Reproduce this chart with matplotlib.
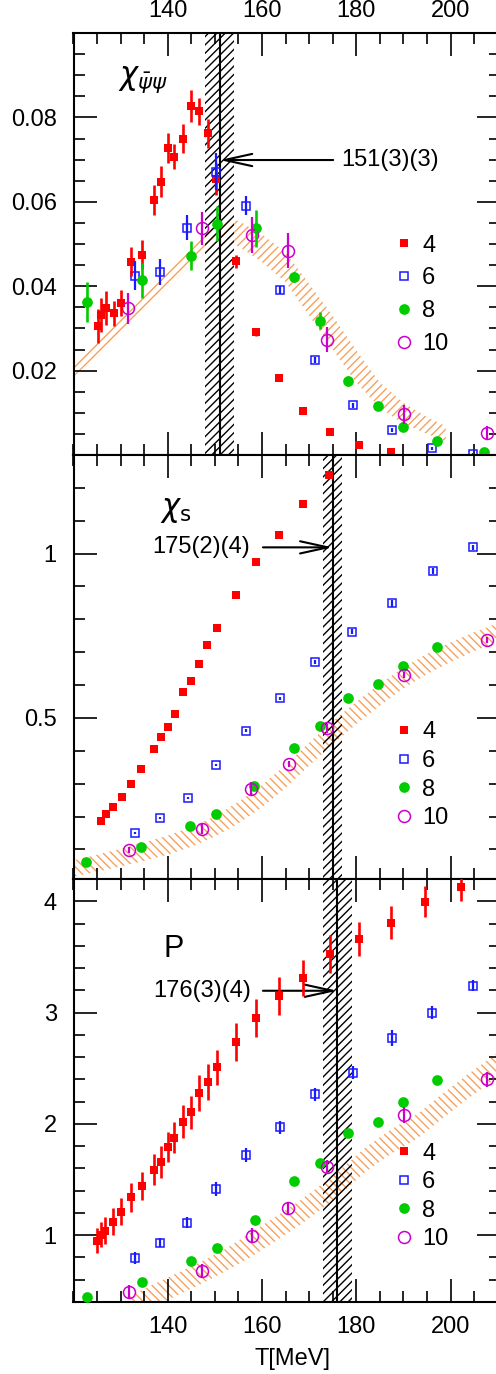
import matplotlib
matplotlib.use('Agg')
import matplotlib.pyplot as plt
from matplotlib.ticker import MultipleLocator, FixedLocator, FormatStrFormatter

plt.rcParams['font.family'] = ['Liberation Sans', 'DejaVu Sans']
plt.rcParams['mathtext.fontset'] = 'dejavusans'
plt.rcParams['hatch.linewidth'] = 1.0

# ---- chiral susceptibility (top panel) ----
pbp_T4 = [125.1, 125.9, 126.8, 128.5, 130.0, 132.1, 134.5, 137.1, 138.6, 140.0, 141.4, 143.2,
          144.9, 146.6, 148.5, 150.3, 154.4, 158.7, 163.5, 168.7, 174.5, 180.6, 187.4]
pbp_4 = [0.0306, 0.0332, 0.0348, 0.0336, 0.0360, 0.0458, 0.0475, 0.0604, 0.0648, 0.0728, 0.0707, 0.0750,
         0.0827, 0.0814, 0.0762, 0.0655, 0.0459, 0.0292, 0.0183, 0.0105, 0.0054, 0.0024, 0.0008]
pbp_4e = [0.004, 0.004, 0.004, 0.003, 0.003, 0.0035, 0.0035, 0.0036, 0.0036, 0.0036, 0.003, 0.0035,
          0.0037, 0.0033, 0.0035, 0.0038, 0.0015, 0.001, 0.0008, 0.0005, 0.0004, 0.0003, 0.0002]
pbp_T6 = [133.1, 138.4, 144.0, 150.2, 156.6, 163.8, 171.3, 179.3, 187.6, 196.1, 204.7]
pbp_6 = [0.0425, 0.0434, 0.0539, 0.0671, 0.0591, 0.0391, 0.0225, 0.0118, 0.0059, 0.0016, 0.0002]
pbp_6e = [0.0034, 0.003, 0.003, 0.0044, 0.0022, 0.001, 0.0008, 0.0006, 0.0004, 0.0003, 0.0002]
pbp_T8 = [122.8, 134.5, 144.9, 150.4, 158.7, 166.8, 172.3, 178.2, 184.7, 190.0, 197.2, 207.0]
pbp_8 = [0.0363, 0.0414, 0.0472, 0.0548, 0.0537, 0.0421, 0.0318, 0.0175, 0.0116, 0.0067, 0.0033, 0.0008]
pbp_8e = [0.0047, 0.0041, 0.0034, 0.0041, 0.0043, 0.0012, 0.002, 0.0012, 0.0006, 0.0006, 0.0004, 0.0003]
pbp_T10 = [131.6, 147.2, 157.8, 165.6, 173.8, 190.2, 207.7]
pbp_10 = [0.0348, 0.0537, 0.0521, 0.0484, 0.0273, 0.0096, 0.0053]
pbp_10e = [0.0037, 0.004, 0.0043, 0.0041, 0.003, 0.0022, 0.0016]
# continuum band
pbp_bandT = [120, 130, 140, 150, 155, 160, 165, 170, 175, 180, 185, 190, 195, 199]
pbp_bandc = [0.0203, 0.0310, 0.0418, 0.0530, 0.0525, 0.0490, 0.0445, 0.0368, 0.0290, 0.0210, 0.0142, 0.0099, 0.0070, 0.0050]
pbp_bandh = [0.0018, 0.0022, 0.0025, 0.0026, 0.0030, 0.0033, 0.0035, 0.0038, 0.0040, 0.0038, 0.0030, 0.0025, 0.0020, 0.0018]

# ---- strange quark number susceptibility (middle panel) ----
chis_T4 = [125.9, 127.0, 128.4, 130.2, 132.1, 134.4, 137.1, 138.6, 140.1, 141.5, 143.2, 144.9,
           146.6, 148.4, 150.4, 154.4, 158.7, 163.5, 168.7, 174.3]
chis_4 = [0.187, 0.208, 0.228, 0.260, 0.298, 0.345, 0.405, 0.441, 0.473, 0.512, 0.578, 0.611,
          0.665, 0.722, 0.774, 0.874, 0.973, 1.056, 1.152, 1.239]
chis_T6 = [133.0, 138.4, 144.2, 150.2, 156.6, 163.8, 171.3, 179.2, 187.6, 196.2, 204.8]
chis_6 = [0.151, 0.196, 0.257, 0.357, 0.461, 0.560, 0.671, 0.762, 0.849, 0.947, 1.019]
chis_6e = [0.003, 0.003, 0.004, 0.004, 0.005, 0.005, 0.006, 0.008, 0.010, 0.010, 0.008]
chis_T8 = [122.7, 134.4, 144.7, 150.3, 158.4, 166.8, 172.3, 178.2, 184.7, 190.0, 197.1]
chis_8 = [0.061, 0.108, 0.171, 0.208, 0.294, 0.409, 0.476, 0.560, 0.604, 0.659, 0.717]
chis_T10 = [131.8, 147.2, 157.7, 165.7, 173.7, 190.2, 207.7]
chis_10 = [0.098, 0.162, 0.284, 0.360, 0.468, 0.631, 0.737]
chis_10e = [0.010, 0.015, 0.020, 0.010, 0.015, 0.010, 0.010]
chis_bandT = [120, 125, 130, 135, 140, 145, 150, 155, 160, 165, 170, 175, 180, 185, 190, 195, 200, 205, 211]
chis_bandc = [0.042, 0.058, 0.075, 0.093, 0.113, 0.138, 0.170, 0.212, 0.262, 0.322, 0.390, 0.455,
              0.515, 0.570, 0.622, 0.664, 0.700, 0.732, 0.765]
chis_bandh = [0.025, 0.026, 0.027, 0.028, 0.029, 0.030, 0.031, 0.033, 0.034, 0.035, 0.035, 0.035,
              0.034, 0.033, 0.032, 0.031, 0.030, 0.029, 0.028]

# ---- pressure (bottom panel) ----
p_T4 = [124.9, 125.8, 126.6, 128.4, 130.0, 132.1, 134.5, 137.1, 138.6, 140.0, 141.4, 143.2, 144.9,
        146.6, 148.5, 150.4, 154.4, 158.7, 163.5, 168.7, 174.5, 180.6, 187.4, 194.5, 202.2]
p_4 = [0.951, 1.005, 1.040, 1.120, 1.211, 1.340, 1.442, 1.588, 1.658, 1.790, 1.875, 2.020, 2.104,
       2.275, 2.376, 2.508, 2.735, 2.949, 3.150, 3.308, 3.530, 3.661, 3.807, 3.996, 4.125]
p_4e = [0.11, 0.11, 0.12, 0.12, 0.12, 0.13, 0.13, 0.14, 0.14, 0.135, 0.14, 0.15, 0.15,
        0.16, 0.16, 0.16, 0.17, 0.17, 0.17, 0.16, 0.17, 0.15, 0.15, 0.14, 0.12]
p_T6 = [133.1, 138.4, 144.0, 150.3, 156.6, 163.8, 171.3, 179.3, 187.6, 196.1, 204.8]
p_6 = [0.798, 0.933, 1.112, 1.415, 1.720, 1.969, 2.266, 2.460, 2.774, 2.999, 3.241]
p_6e = [0.055, 0.04, 0.05, 0.06, 0.06, 0.06, 0.06, 0.06, 0.07, 0.06, 0.05]
p_T8 = [122.8, 134.5, 144.9, 150.4, 158.5, 166.8, 172.2, 178.2, 184.7, 190.0, 197.2]
p_8 = [0.442, 0.582, 0.768, 0.888, 1.137, 1.490, 1.651, 1.915, 2.020, 2.194, 2.394]
p_T10 = [131.7, 147.2, 157.8, 165.6, 173.8, 190.2, 207.8]
p_10 = [0.493, 0.678, 0.996, 1.242, 1.615, 2.080, 2.400]
p_10e = [0.06, 0.06, 0.07, 0.06, 0.06, 0.07, 0.07]
p_bandT = [132, 135, 140, 147, 152, 157.5, 163, 168, 175, 182, 187, 193, 198, 203.5, 211]
p_bandc = [0.35, 0.42, 0.52, 0.66, 0.77, 0.91, 1.06, 1.20, 1.42, 1.68, 1.83, 1.98, 2.15, 2.33, 2.56]
p_bandh = [0.10, 0.10, 0.10, 0.10, 0.10, 0.11, 0.11, 0.11, 0.11, 0.11, 0.11, 0.11, 0.11, 0.11, 0.11]

# transition temperatures and errors
tc_vals = [151, 175, 176]
tc_errs = [3, 2, 3]
tc_texts = ['151(3)(3)', '175(2)(4)', '176(3)(4)']

nt_labels = ['4', '6', '8', '10']
col4 = '#ff0000'
col6 = '#1a1aff'
col8 = '#00cc00'
col10 = '#cc00cc'
orange = '#f7a15e'


def style_axis(ax):
    ax.set_xlim(120, 210.5)
    ax.xaxis.set_major_locator(FixedLocator([140, 160, 180, 200]))
    ax.xaxis.set_minor_locator(MultipleLocator(5))
    ax.tick_params(which='both', direction='in', top=True, right=True, width=1.2)
    ax.tick_params(which='major', length=16.5, labelsize=17)
    ax.tick_params(which='minor', length=8)
    ax.tick_params(axis='y', pad=12)
    for s in ax.spines.values():
        s.set_linewidth(1.5)


def draw_panel(ax, data, band, hatch, k):
    bT, bc, bh = band
    lo = [c - h for c, h in zip(bc, bh)]
    hi = [c + h for c, h in zip(bc, bh)]
    ax.fill_between(bT, lo, hi, facecolor='none', edgecolor=orange, hatch=hatch, lw=0, zorder=1)
    ax.axvspan(tc_vals[k] - tc_errs[k], tc_vals[k] + tc_errs[k], facecolor='none', edgecolor='k',
               hatch='////', lw=0, zorder=2)
    ax.axvline(tc_vals[k], color='k', lw=1.5, zorder=2)

    styles = [
        dict(marker='s', color=col4, mfc=col4, mec=col4, ms=5.8, mew=0),
        dict(marker='s', color=col6, mfc='none', mec=col6, ms=5.5, mew=1.1),
        dict(marker='o', color=col8, mfc=col8, mec=col8, ms=7.7, mew=0),
        dict(marker='o', color=col10, mfc='none', mec=col10, ms=8.6, mew=1.1),
    ]
    elw = [1.9, 1.6, 1.9, 1.6]
    handles = []
    for (T, v, e), st, lw, lab in zip(data, styles, elw, nt_labels):
        if e is not None:
            ax.errorbar(T, v, yerr=e, fmt='none', ecolor=st['color'], elinewidth=lw, capsize=0, zorder=4)
        h, = ax.plot(T, v, ls='none', marker=st['marker'], mfc=st['mfc'], mec=st['mec'],
                     ms=st['ms'], mew=st['mew'], zorder=3, label=lab)
        handles.append(h)
    return handles


fig = plt.figure(figsize=(4.96, 13.74), dpi=100)
left = 73.5 / 496
width = (500 - 73.5) / 496
ax1 = fig.add_axes([left, (1374 - 455) / 1374, width, 422 / 1374])
ax2 = fig.add_axes([left, (1374 - 879) / 1374, width, 424 / 1374])
ax3 = fig.add_axes([left, (1374 - 1302) / 1374, width, 423 / 1374])

# top panel
h1 = draw_panel(ax1, [(pbp_T4, pbp_4, pbp_4e), (pbp_T6, pbp_6, pbp_6e),
                      (pbp_T8, pbp_8, pbp_8e), (pbp_T10, pbp_10, pbp_10e)],
                (pbp_bandT, pbp_bandc, pbp_bandh), '////', 0)
style_axis(ax1)
ax1.set_ylim(0, 0.1)
ax1.yaxis.set_major_locator(FixedLocator([0.02, 0.04, 0.06, 0.08]))
ax1.yaxis.set_minor_locator(MultipleLocator(0.005))
ax1.yaxis.set_major_formatter(FormatStrFormatter('%g'))
ax1.tick_params(axis='x', labeltop=True, labelbottom=False, pad=8)
ax1.text(129.4, 0.0889, r'$\chi_{\bar{\psi}\psi}$', fontsize=22, va='center', ha='left')
ax1.annotate('', xy=(tc_vals[0], 0.0699), xytext=(175.1, 0.0699),
             arrowprops=dict(arrowstyle='->,head_length=1.0,head_width=0.22', lw=1.5, color='k',
                             shrinkA=0, shrinkB=0, mutation_scale=20))
ax1.text(176.9, 0.0699, tc_texts[0], fontsize=17, va='center', ha='left')
ax1.legend(handles=h1, loc='upper left', bbox_to_anchor=(0.753, 0.5225), frameon=False,
           handlelength=0.8, handletextpad=0.36, labelspacing=0.46, borderaxespad=0,
           borderpad=0, fontsize=17, numpoints=1)

# middle panel
h2 = draw_panel(ax2, [(chis_T4, chis_4, None), (chis_T6, chis_6, chis_6e),
                      (chis_T8, chis_8, None), (chis_T10, chis_10, chis_10e)],
                (chis_bandT, chis_bandc, chis_bandh), '\\\\\\\\', 1)
style_axis(ax2)
ax2.set_ylim(0.01, 1.3)
ax2.yaxis.set_major_locator(FixedLocator([0.5, 1.0]))
ax2.yaxis.set_minor_locator(MultipleLocator(0.1))
ax2.yaxis.set_major_formatter(FormatStrFormatter('%g'))
ax2.tick_params(axis='x', labelbottom=False)
ax2.text(138.4, 1.132, r'$\chi_\mathrm{s}$', fontsize=22, va='center', ha='left')
ax2.annotate('', xy=(tc_vals[1], 1.019), xytext=(160.2, 1.019),
             arrowprops=dict(arrowstyle='->,head_length=1.0,head_width=0.22', lw=1.5, color='k',
                             shrinkA=0, shrinkB=0, mutation_scale=20))
ax2.text(157.5, 1.019, tc_texts[1], fontsize=17, va='center', ha='right')
ax2.legend(handles=h2, loc='upper left', bbox_to_anchor=(0.753, 0.3715), frameon=False,
           handlelength=0.8, handletextpad=0.36, labelspacing=0.28, borderaxespad=0,
           borderpad=0, fontsize=17, numpoints=1)

# bottom panel
h3 = draw_panel(ax3, [(p_T4, p_4, p_4e), (p_T6, p_6, p_6e),
                      (p_T8, p_8, None), (p_T10, p_10, p_10e)],
                (p_bandT, p_bandc, p_bandh), '\\\\\\\\', 2)
style_axis(ax3)
ax3.set_ylim(0.4, 4.2)
ax3.yaxis.set_major_locator(FixedLocator([1, 2, 3, 4]))
ax3.yaxis.set_minor_locator(MultipleLocator(0.2))
ax3.yaxis.set_major_formatter(FormatStrFormatter('%g'))
ax3.tick_params(axis='x', pad=10)
ax3.text(139.0, 3.571, 'P', fontsize=22, va='center', ha='left')
ax3.annotate('', xy=(tc_vals[2], 3.196), xytext=(160.2, 3.196),
             arrowprops=dict(arrowstyle='->,head_length=1.0,head_width=0.22', lw=1.5, color='k',
                             shrinkA=0, shrinkB=0, mutation_scale=20))
ax3.text(157.6, 3.196, tc_texts[2], fontsize=17, va='center', ha='right')
ax3.legend(handles=h3, loc='upper left', bbox_to_anchor=(0.753, 0.377), frameon=False,
           handlelength=0.8, handletextpad=0.36, labelspacing=0.28, borderaxespad=0,
           borderpad=0, fontsize=17, numpoints=1)
ax3.set_xlabel('T[MeV]', fontsize=17)
ax3.xaxis.set_label_coords((292.7 - 73.5) / 426.5, -0.109)

fig.savefig('out.png', dpi=100)
